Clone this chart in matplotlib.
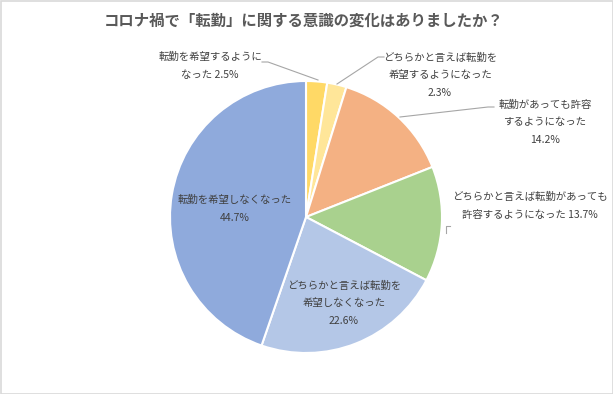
import matplotlib
matplotlib.use("Agg")
import matplotlib.pyplot as plt
from matplotlib.patches import Rectangle

plt.rcParams['font.family'] = ['Noto Sans CJK JP', 'DejaVu Sans']

title = "コロナ禍で「転勤」に関する意識の変化はありましたか？"
categories = [
    "転勤を希望するように\nなった",
    "どちらかと言えば転勤を\n希望するようになった",
    "転勤があっても許容\nするようになった",
    "どちらかと言えば転勤があっても\n許容するようになった",
    "どちらかと言えば転勤を\n希望しなくなった",
    "転勤を希望しなくなった",
]
values = [2.5, 2.3, 14.2, 13.7, 22.6, 44.7]
colors = ["#FFD966", "#FFE699", "#F4B183", "#A9D18E", "#B4C7E7", "#8FAADC"]

W, H = 613, 394
fig = plt.figure(figsize=(W / 100, H / 100), dpi=100)
ax = fig.add_axes([0, 0, 1, 1])

cx, cy, r = 306, H - 217, 136
ax.pie(values, colors=colors, startangle=90, counterclock=False,
       center=(cx, cy), radius=r,
       wedgeprops=dict(edgecolor="white", linewidth=1.5))
ax.set_xlim(0, W)
ax.set_ylim(0, H)
ax.set_aspect('auto')
ax.axis('off')

# border
ax.add_patch(Rectangle((0.5, 0.5), W - 1, H - 1, fill=False,
                       edgecolor="#D9D9D9", linewidth=1.2, clip_on=False))

ax.text(304, H - 21, title, ha='center', va='center', fontsize=11.1,
        fontweight='bold', color='#595959')

tc = '#404040'
fs = 7.5
lc = '#A6A6A6'

def lab(i, x, y, sep=" "):
    txt = categories[i] + sep + f"{values[i]}%"
    ax.text(x, H - y, txt, ha='center', va='center', fontsize=fs,
            color=tc, linespacing=1.95)

lab(0, 210, 66)
lab(1, 440, 75, "\n")
lab(2, 545, 122, "\n")
lab(3, 530, 206)
lab(4, 344, 303, "\n")
lab(5, 235, 209, "\n")

# leader lines
ax.plot([262, 268, 318], [H - 62, H - 62, H - 80], color=lc, lw=0.8)
ax.plot([384, 378, 337], [H - 57, H - 57, H - 84], color=lc, lw=0.8)
ax.plot([494, 488, 400], [H - 107, H - 107, H - 117], color=lc, lw=0.8)
ax.plot([446, 446, 450], [H - 233, H - 226, H - 226], color=lc, lw=0.8)

fig.savefig("out.png", dpi=100)
